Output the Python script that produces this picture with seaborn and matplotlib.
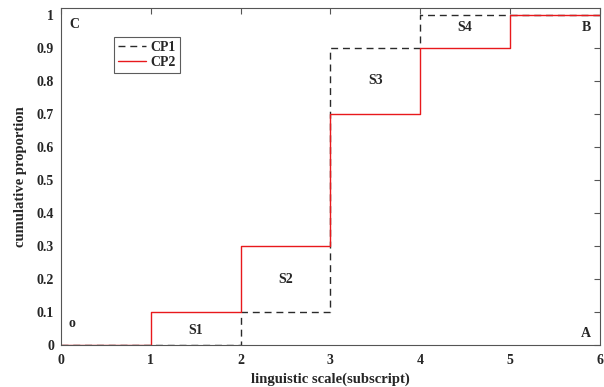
import numpy as np
import pandas as pd
import matplotlib
matplotlib.use('Agg')
import matplotlib.pyplot as plt
import seaborn as sns

# Data: cumulative proportions on the linguistic scale
scale = [0, 1, 2, 3, 4, 5, 6]
cp1 = [0, 0, 0.1, 0.9, 1.0, 1.0, 1.0]
cp2 = [0, 0.1, 0.3, 0.7, 0.9, 1.0, 1.0]
region_labels = ['S1', 'S2', 'S3', 'S4']
region_x = [1.5, 2.5, 3.5, 4.5]
region_y = [0.045, 0.2, 0.8, 0.96]
corner_labels = ['o', 'A', 'B', 'C']
corner_x = [0.12, 5.85, 5.85, 0.15]
corner_y = [0.045, 0.015, 0.98, 0.99]

sns.set_style('white')
plt.rcParams['font.family'] = ['Liberation Serif', 'DejaVu Serif']
plt.rcParams['font.weight'] = 'bold'
plt.rcParams['axes.labelweight'] = 'bold'
plt.rcParams['xtick.direction'] = 'in'
plt.rcParams['ytick.direction'] = 'in'

df = pd.DataFrame({'x': scale * 2, 'y': cp1 + cp2,
                   'series': ['CP1'] * len(scale) + ['CP2'] * len(scale)})

fig, ax = plt.subplots(figsize=(6.04, 3.87), dpi=100)
fig.subplots_adjust(left=0.101, right=0.993, top=0.979, bottom=0.108)

sns.lineplot(data=df[df.series == 'CP1'], x='x', y='y', ax=ax, color='#2a2a2a',
             linestyle=(0, (5, 3.5)), linewidth=1.0, drawstyle='steps-post', label='CP1')
sns.lineplot(data=df[df.series == 'CP2'], x='x', y='y', ax=ax, color='#e8191c',
             linewidth=1.0, drawstyle='steps-post', label='CP2')

ax.set_xlim(0, 6)
ax.set_ylim(0, 1.02)
ax.set_xticks(range(7))
ax.set_yticks(np.round(np.arange(0, 1.01, 0.1), 1))
ax.set_yticklabels(['0'] + [f'{v:.1f}' for v in np.arange(0.1, 0.95, 0.1)] + ['1'])
ax.tick_params(axis='both', labelsize=10, length=4, color='#555555', top=True, right=True)
ax.tick_params(axis='x', pad=6)
ax.tick_params(axis='y', pad=5)
for s in ax.spines.values():
    s.set_color('#555555')
    s.set_linewidth(0.8)

ax.set_xlabel('linguistic scale(subscript)', fontsize=10.5, labelpad=4)
ax.set_ylabel('cumulative proportion', fontsize=10.5, labelpad=7)

for lab, x, y in zip(region_labels, region_x, region_y):
    ax.text(x, y, lab, ha='center', va='center', fontsize=10, fontweight='bold')
for lab, x, y in zip(corner_labels, corner_x, corner_y):
    ax.text(x, y, lab, ha='center', va='top' if lab in ('B', 'C') else 'bottom',
            fontsize=10, fontweight='bold')

leg = ax.legend(loc='upper left', bbox_to_anchor=(0.086, 0.935), fontsize=10,
                frameon=True, fancybox=False, edgecolor='#333333', handlelength=2.0,
                borderpad=0.3, labelspacing=0.15, handletextpad=0.3)
leg.get_frame().set_linewidth(0.8)

fig.savefig('out.png', dpi=100)
